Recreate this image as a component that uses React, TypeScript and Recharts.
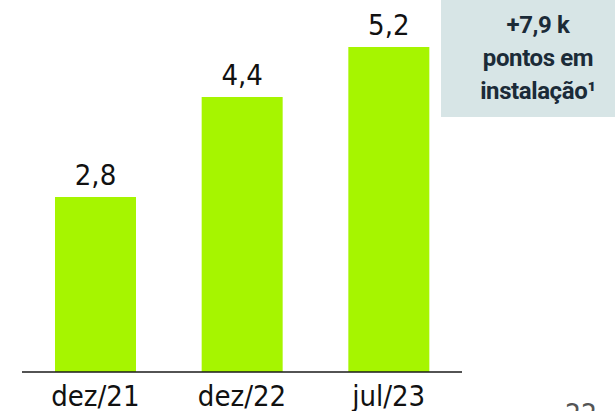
import React from 'react';
import { BarChart, Bar, XAxis, YAxis, LabelList } from 'recharts';

const periods = ['dez/21', 'dez/22', 'jul/23'];
const pointsK = [2.8, 4.4, 5.2];
const calloutLines = ['+7,9 k', 'pontos em', 'instalação¹'];
const pageNumber = '22';

const chartData = periods.map((p, i) => ({ period: p, value: pointsK[i] }));

const FONT = "'DejaVu Sans Condensed', 'DejaVu Sans', sans-serif";

const Tick = (props: any) => {
  const { x, y, payload } = props;
  return (
    <text x={x} y={y + 26} textAnchor="middle" fontFamily={FONT} fontSize={29} fill="#111">
      {payload.value}
    </text>
  );
};

export default function App() {
  return (
    <div style={{ position: 'absolute', left: 0, top: 0, width: 615, height: 411, overflow: 'hidden', background: '#fff' }}>
      <BarChart
        width={615}
        height={411}
        data={chartData}
        margin={{ top: 22, right: 153, bottom: 0, left: 22 }}
        barSize={81}
      >
        <YAxis hide domain={[0, 5.6]} />
        <XAxis
          dataKey="period"
          height={39}
          axisLine={{ stroke: '#1a1a1a', strokeWidth: 1.5 }}
          tickLine={false}
          tick={<Tick />}
          interval={0}
        />
        <Bar dataKey="value" fill="#a6f500" isAnimationActive={false}>
          <LabelList
            dataKey="value"
            position="top"
            offset={12}
            formatter={(v: any) => String(v).replace('.', ',')}
            style={{ fontFamily: FONT, fontSize: 29, fill: '#111' }}
          />
        </Bar>
      </BarChart>
      <div
        style={{
          position: 'absolute',
          left: 441,
          top: 0,
          width: 174,
          height: 117,
          background: '#d7e5e6',
          display: 'flex',
          flexDirection: 'column',
          alignItems: 'center',
          justifyContent: 'center',
          fontFamily: "Roboto, sans-serif",
          fontWeight: 700,
          fontSize: 24,
          letterSpacing: -0.4,
          lineHeight: '33px',
          color: '#1b2b38',
          paddingLeft: 20,
          boxSizing: 'border-box',
        }}
      >
        {calloutLines.map((l) => (
          <div key={l}>{l}</div>
        ))}
      </div>
      <div
        style={{
          position: 'absolute',
          left: 565,
          top: 398,
          fontFamily: FONT,
          fontSize: 28,
          color: '#555',
        }}
      >
        {pageNumber}
      </div>
    </div>
  );
}
